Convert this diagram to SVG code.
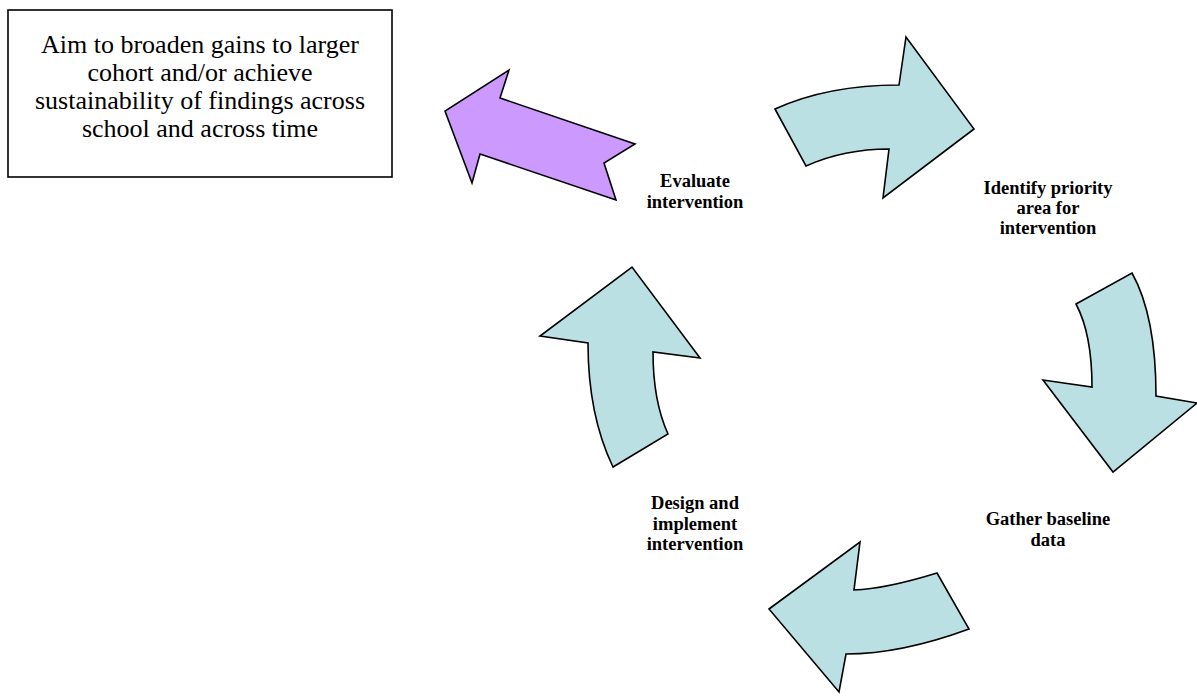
<svg xmlns="http://www.w3.org/2000/svg" width="1197" height="696" viewBox="0 0 1197 696">
<style>
.arrow{fill:#BBE0E3;stroke:#000;stroke-width:1.6;stroke-linejoin:miter}
.purple{fill:#CC99FF;stroke:#000;stroke-width:1.6}
.lbl{font-weight:bold;font-size:18.5px;text-anchor:middle;fill:#000}
.box{fill:#fff;stroke:#000;stroke-width:1.6}
.boxtxt{font-size:26px;text-anchor:middle;fill:#000}
</style>
<rect width="1197" height="696" fill="#fff"/>
<g id="note" font-family="'Liberation Serif', 'Times New Roman', 'DejaVu Serif', serif">
<rect class="box" x="8" y="10" width="384" height="167"/>
<text class="boxtxt" x="200" y="53">Aim to broaden gains to larger</text>
<text class="boxtxt" x="200" y="81">cohort and/or achieve</text>
<text class="boxtxt" x="200" y="109">sustainability of findings across</text>
<text class="boxtxt" x="200" y="137">school and across time</text>
</g>
<g id="connectors">
<path id="arrow-identify" class="arrow" d="M775,109 Q828,85 899,85 L906,37 L974,129 L883,198 L889,149 Q844,149 806,166 Z"/>
<path id="arrow-gather" class="arrow" d="M1076,304 L1132,273 Q1156,316 1156,396 L1197,403 L1113,472 L1043,380 L1092,387 Q1092,334 1076,304 Z"/>
<path id="arrow-design" class="arrow" d="M937,573 L969,629 Q901,654 846,654 L839,692 L769,609 L860,542 L854,590 Q885,589 937,573 Z"/>
<path id="arrow-evaluate" class="arrow" d="M613,467 Q588,415 588,343 L540,336 L632,267 L700,358 L653,352 Q653,401 668,434 Z"/>
<path id="arrow-broaden" class="purple" d="M509,70 L500,98 L635,144 L604,163 L616,200 L480,154 L472,183 L445,111 Z"/>
</g>
<g id="evaluate" font-family="'Liberation Serif', 'Times New Roman', 'DejaVu Serif', serif">
<text class="lbl" x="695" y="187">Evaluate</text>
<text class="lbl" x="695" y="208">intervention</text>
</g>
<g id="identify" font-family="'Liberation Serif', 'Times New Roman', 'DejaVu Serif', serif">
<text class="lbl" x="1048" y="194">Identify priority</text>
<text class="lbl" x="1048" y="214">area for</text>
<text class="lbl" x="1048" y="234">intervention</text>
</g>
<g id="gather" font-family="'Liberation Serif', 'Times New Roman', 'DejaVu Serif', serif">
<text class="lbl" x="1048" y="525">Gather baseline</text>
<text class="lbl" x="1048" y="546">data</text>
</g>
<g id="design" font-family="'Liberation Serif', 'Times New Roman', 'DejaVu Serif', serif">
<text class="lbl" x="695" y="509">Design and</text>
<text class="lbl" x="695" y="530">implement</text>
<text class="lbl" x="695" y="550">intervention</text>
</g>
</svg>
